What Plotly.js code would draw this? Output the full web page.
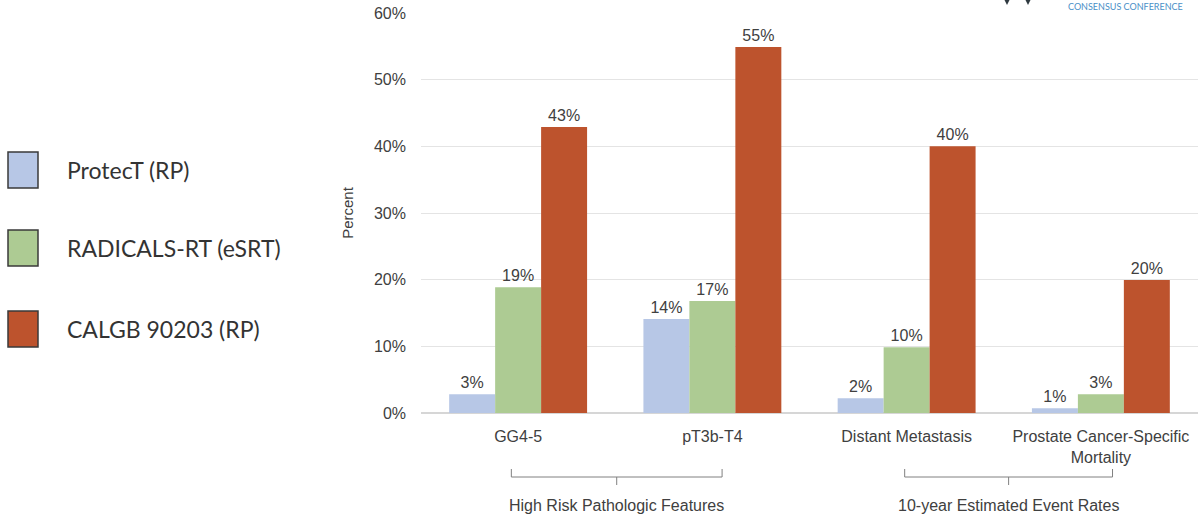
<!DOCTYPE html>
<html>
<head>
<meta charset="utf-8">
<script src="https://cdn.plot.ly/plotly-3.0.1.min.js"></script>
<style>html,body{margin:0;padding:0;background:#fff;}#chart{width:1200px;height:527px;}</style>
</head>
<body>
<div id="chart"></div>
<script>
// ---- data ----
const categories = ["GG4-5", "pT3b-T4", "Distant Metastasis", "Prostate Cancer-Specific<br>Mortality"];
const seriesNames = ["ProtecT (RP)", "RADICALS-RT (eSRT)", "CALGB 90203 (RP)"];
const protectValues = [0.028, 0.141, 0.022, 0.007];
const radicalsValues = [0.1885, 0.168, 0.0985, 0.028];
const calgbValues = [0.429, 0.549, 0.40, 0.1995];
const protectLabels = ["3%", "14%", "2%", "1%"];
const radicalsLabels = ["19%", "17%", "10%", "3%"];
const calgbLabels = ["43%", "55%", "40%", "20%"];
const yTickValues = [0, 0.1, 0.2, 0.3, 0.4, 0.5, 0.6];
const yTickLabels = ["0%", "10%", "20%", "30%", "40%", "50%", "60%"];
const groupNames = ["High Risk Pathologic Features", "10-year Estimated Event Rates"];

// ---- styles ----
const colors = ["#B7C7E6", "#ADCB93", "#BD532D"];
const labelFont = {family: "Arial, Liberation Sans, sans-serif", size: 16, color: "#404040"};

const seriesValues = [protectValues, radicalsValues, calgbValues];
const seriesLabels = [protectLabels, radicalsLabels, calgbLabels];

const traces = seriesNames.map((n, i) => ({
  type: "bar",
  name: n,
  x: categories,
  y: seriesValues[i],
  text: seriesLabels[i],
  textposition: "outside",
  textfont: labelFont,
  cliponaxis: false,
  marker: {color: colors[i]},
  hoverinfo: "skip"
}));

const shapes = [];
const annotations = [];
const W = 777, H = 400, L = 421, B = 413;
const px = v => (v - L) / W;
const py = v => (B - v) / H;

// custom legend on the left
const legendTop = [152, 230, 311];
seriesNames.forEach((n, i) => {
  shapes.push({type: "rect", xref: "paper", yref: "paper",
    x0: px(8), x1: px(38),
    y0: py(legendTop[i]), y1: py(legendTop[i] + 36),
    fillcolor: colors[i], line: {color: "#3a3a3a", width: 1.5}});
  annotations.push({xref: "paper", yref: "paper", x: px(65), xanchor: "left",
    y: py(legendTop[i] + 18), yanchor: "middle", showarrow: false,
    text: n, font: {family: "Lato, Noto Sans, sans-serif", size: 23, color: "#333333"}});
});

// group brackets
const brackets = [[-0.035, 1.05], [1.99, 3.06]];
const by = py(477), byTop = py(469), byMid = py(485);
brackets.forEach((b, i) => {
  const mid = (b[0] + b[1]) / 2;
  shapes.push({type: "path", xref: "x", yref: "paper",
    path: `M ${b[0]} ${byTop} L ${b[0]} ${by} L ${b[1]} ${by} L ${b[1]} ${byTop}`,
    line: {color: "#808080", width: 1}});
  shapes.push({type: "line", xref: "x", yref: "paper", x0: mid, x1: mid, y0: by, y1: byMid,
    line: {color: "#808080", width: 1}});
  annotations.push({xref: "x", yref: "paper", x: mid, y: py(505), yanchor: "middle",
    showarrow: false, text: groupNames[i], font: labelFont});
});

// logo fragment top right
annotations.push({xref: "paper", yref: "paper", x: px(1184), xanchor: "right", y: py(0), yanchor: "top",
  showarrow: false, text: "CONSENSUS CONFERENCE", borderpad: 0,
  font: {family: "Lato, sans-serif", size: 9, color: "#4A8FC7"}});
[1007, 1028].forEach(xc => {
  shapes.push({type: "path", xref: "paper", yref: "paper",
    path: `M ${px(xc - 3)} ${py(-1)} L ${px(xc + 3)} ${py(-1)} L ${px(xc)} ${py(5)} Z`,
    fillcolor: "#2f3a40", line: {width: 0}});
});

const layout = {
  width: 1200, height: 527,
  margin: {l: 421, r: 2, t: 13, b: 114, pad: 0},
  paper_bgcolor: "#ffffff", plot_bgcolor: "#ffffff",
  barmode: "group", bargap: 0.29, bargroupgap: 0,
  showlegend: false,
  font: labelFont,
  xaxis: {type: "category", showgrid: false, zeroline: false, showline: false,
    ticks: "", tickfont: labelFont, ticklabelstandoff: 12, automargin: false},
  yaxis: {range: [0, 0.6], tickvals: yTickValues, ticktext: yTickLabels,
    showgrid: true, gridcolor: "#e4e4e4", gridwidth: 1,
    zeroline: true, zerolinecolor: "#d6d6d6", zerolinewidth: 1.5,
    showline: false, ticks: "", tickfont: labelFont, ticklabelstandoff: 14,
    automargin: false,
    title: {text: "Percent", font: {family: "Arial, Liberation Sans, sans-serif", size: 15, color: "#404040"}, standoff: 16}},
  shapes: shapes,
  annotations: annotations
};

Plotly.newPlot("chart", traces, layout, {displayModeBar: false, staticPlot: true});
</script>
</body>
</html>
